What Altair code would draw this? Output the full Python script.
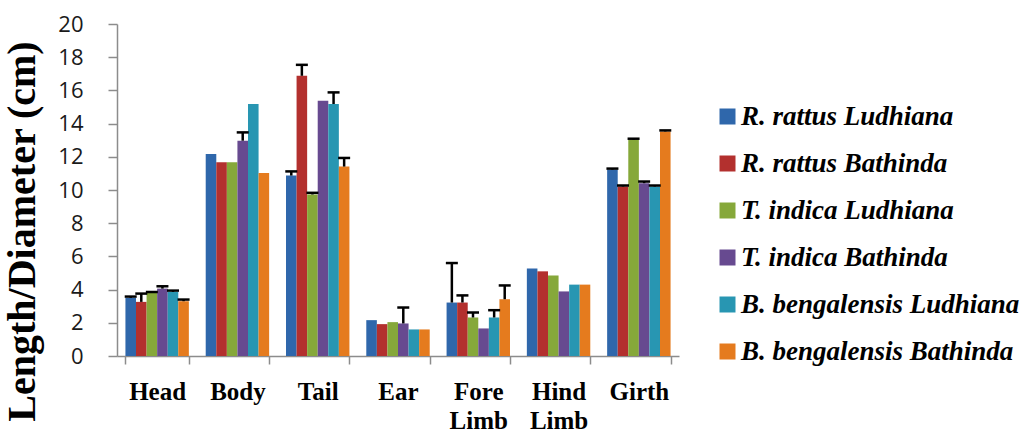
import altair as alt
import pandas as pd

categories = ["Head", "Body", "Tail", "Ear", "Fore Limb", "Hind Limb", "Girth"]
series = ["R. rattus Ludhiana", "R. rattus Bathinda", "T. indica Ludhiana",
          "T. indica Bathinda", "B. bengalensis Ludhiana", "B. bengalensis Bathinda"]
colors = ["#2f67ab", "#b3302e", "#86a83a", "#674a90", "#2896b2", "#e57b1e"]
y_ticks = [0, 2, 4, 6, 8, 10, 12, 14, 16, 18, 20]

values = {
    "R. rattus Ludhiana":      [3.50, 12.17, 10.87, 2.16, 3.22, 5.27, 11.23],
    "R. rattus Bathinda":      [3.26, 11.67, 16.88, 1.92, 3.22, 5.10, 10.21],
    "T. indica Ludhiana":      [3.80, 11.67, 9.73, 2.04, 2.32, 4.85, 13.03],
    "T. indica Bathinda":      [4.06, 12.97, 15.38, 1.96, 1.66, 3.89, 10.41],
    "B. bengalensis Ludhiana": [3.86, 15.18, 15.18, 1.60, 2.32, 4.30, 10.21],
    "B. bengalensis Bathinda": [3.30, 11.03, 11.41, 1.60, 3.42, 4.30, 13.53],
}
errors = {
    "R. rattus Ludhiana":      [0.08, 0.0, 0.25, 0.0, 2.38, 0.0, 0.06],
    "R. rattus Bathinda":      [0.50, 0.0, 0.66, 0.0, 0.43, 0.0, 0.06],
    "T. indica Ludhiana":      [0.06, 0.0, 0.10, 0.0, 0.30, 0.0, 0.06],
    "T. indica Bathinda":      [0.14, 0.5, 0.0, 0.96, 0.0, 0.0, 0.10],
    "B. bengalensis Ludhiana": [0.08, 0.0, 0.70, 0.0, 0.44, 0.0, 0.06],
    "B. bengalensis Bathinda": [0.10, 0.0, 0.52, 0.0, 0.83, 0.0, 0.06],
}

rows = []
for s in series:
    for c, v, e in zip(categories, values[s], errors[s]):
        rows.append({"part": c, "series": s, "value": v, "err": e, "top": v + e})
df = pd.DataFrame(rows)

x_axis = alt.Axis(title=None, labelAngle=0, labelExpr="split(datum.label, ' ')",
                  labelFont="Liberation Serif", labelFontWeight="bold",
                  labelFontSize=25, labelColor="#000000", labelLineHeight=29,
                  labelPadding=15, tickBand="extent", tickSize=8,
                  tickColor="#8c8c8c", domainColor="#8c8c8c", domainWidth=1.5,
                  tickWidth=1.5, grid=False)
y_axis = alt.Axis(title="Length/Diameter (cm)", values=y_ticks,
                  titleFont="Liberation Serif", titleFontWeight="bold",
                  titleFontSize=40, titleColor="#000000",
                  titleX=-75, titleY=207, titleBaseline="bottom",
                  labelFont="Open Sans", labelFontSize=22, labelColor="#1a1a1a",
                  labelPadding=25, labelOverlap=False, tickSize=9,
                  tickColor="#8c8c8c", domainColor="#8c8c8c", domainWidth=1.5,
                  tickWidth=1.5, grid=False)
x_scale = alt.Scale(paddingInner=0.21, paddingOuter=0.105)
y_scale = alt.Scale(domain=[0, 20])
xoff = alt.XOffset("series:N", sort=series)

bars = alt.Chart(df).mark_bar().encode(
    x=alt.X("part:N", sort=categories, scale=x_scale, axis=x_axis),
    xOffset=xoff,
    y=alt.Y("value:Q", scale=y_scale, axis=y_axis),
    color=alt.Color("series:N", sort=series,
                    scale=alt.Scale(domain=series, range=colors),
                    legend=alt.Legend(title=None, orient="none", legendX=597, legendY=79,
                                      symbolType="square", symbolSize=256,
                                      symbolStrokeWidth=0, symbolOpacity=1,
                                      labelFont="Liberation Serif", labelFontWeight="bold",
                                      labelFontStyle="italic", labelFontSize=27,
                                      labelColor="#000000", labelLimit=0,
                                      rowPadding=19, labelOffset=0, padding=0)),
)

err_src = alt.Chart(df).transform_filter("datum.err > 0")

rules = err_src.mark_rule(color="black", strokeWidth=2.5).encode(
    x=alt.X("part:N", sort=categories, scale=x_scale, axis=x_axis, bandPosition=0.5),
    xOffset=xoff,
    y=alt.Y("value:Q", scale=y_scale, axis=y_axis),
    y2="top:Q",
)
caps = err_src.mark_tick(color="black", thickness=2.5, size=12, opacity=1).encode(
    x=alt.X("part:N", sort=categories, scale=x_scale, axis=x_axis),
    xOffset=xoff,
    y=alt.Y("top:Q", scale=y_scale, axis=y_axis),
)

chart = alt.layer(bars, rules, caps).properties(
    width=562, height=332,
    padding={"left": 117, "top": 24, "right": 352, "bottom": 80},
    autosize=alt.AutoSizeParams(type="none"),
).configure_view(stroke=None).configure_axis(grid=False)

chart.save("out.html", embed_options={"renderer": "svg", "actions": False})
